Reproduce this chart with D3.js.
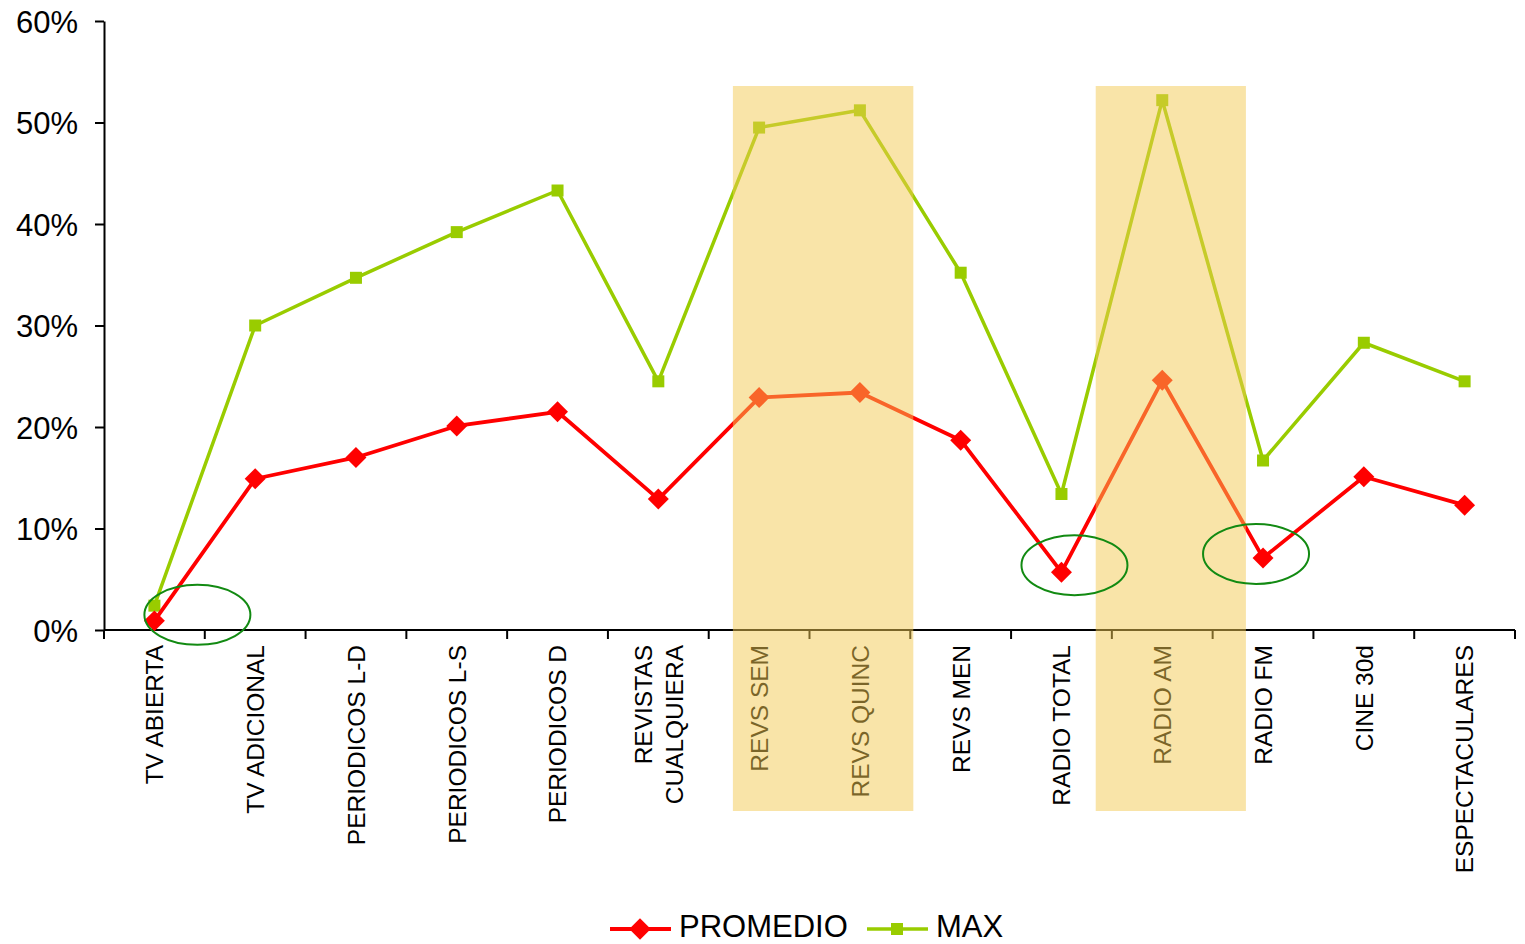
<!DOCTYPE html>
<html>
<head>
<meta charset="utf-8">
<script src="https://cdn.jsdelivr.net/npm/d3@7"></script>
<style>
  html, body { margin: 0; padding: 0; background: #fff; }
  svg { display: block; font-family: "Liberation Sans", Arial, sans-serif; }
</style>
</head>
<body>
<svg id="chart" width="1525" height="944"></svg>
<script>
// Media categories (multi-line labels split with "\n")
const categories = [
  "TV ABIERTA", "TV ADICIONAL", "PERIODICOS L-D", "PERIODICOS L-S", "PERIODICOS D",
  "REVISTAS\nCUALQUIERA", "REVS SEM", "REVS QUINC", "REVS MEN", "RADIO TOTAL",
  "RADIO AM", "RADIO FM", "CINE 30d", "ESPECTACULARES"
];
// Average reach per medium (%)
const promedio = [0.9, 14.9, 17.0, 20.1, 21.5, 12.9, 22.9, 23.4, 18.7, 5.7, 24.6, 7.1, 15.1, 12.3];
// Maximum reach per medium (%)
const maxVals = [2.4, 30.0, 34.7, 39.2, 43.3, 24.5, 49.5, 51.2, 35.2, 13.4, 52.2, 16.7, 28.3, 24.5];
const yTicks = [0, 10, 20, 30, 40, 50, 60];
// Highlighted category ranges: [first, last, start inset, end overhang] (in band widths)
const highlights = [["REVS SEM", "REVS QUINC", 0.24, 0.03], ["RADIO AM", "RADIO AM", -0.16, 0.33]];
// Circled points
const circled = ["TV ABIERTA", "RADIO TOTAL", "RADIO FM"];

const svg = d3.select("#chart");
const mLeft = 104, mRight = 1515, mTop = 21, mBottom = 630;

const x = d3.scaleBand().domain(categories).range([mLeft, mRight]).padding(0);
const y = d3.scaleLinear().domain([0, 60]).range([mBottom, mTop]);
const cx = c => x(c) + x.bandwidth() / 2;

// Y axis
const yAxis = svg.append("g").attr("transform", `translate(${mLeft},0)`)
  .call(d3.axisLeft(y).tickValues(yTicks).tickFormat(d => d + "%").tickSize(9).tickSizeOuter(0));
yAxis.select(".domain").attr("stroke", "#000").attr("stroke-width", 2);
yAxis.selectAll(".tick line").attr("stroke", "#000").attr("stroke-width", 2);
yAxis.selectAll(".tick text").attr("font-size", 31).attr("fill", "#000")
  .attr("font-family", "'Liberation Sans', Arial, sans-serif")
  .attr("x", -26).attr("dy", "0.36em");

// X axis: ticks on category boundaries
const xAxisG = svg.append("g");
xAxisG.append("line").attr("x1", mLeft).attr("x2", mRight).attr("y1", mBottom).attr("y2", mBottom)
  .attr("stroke", "#000").attr("stroke-width", 2);
const boundaries = categories.map(c => x(c)).concat([mRight]);
xAxisG.selectAll(".xt").data(boundaries).join("line")
  .attr("x1", d => d).attr("x2", d => d).attr("y1", mBottom).attr("y2", mBottom + 9)
  .attr("stroke", "#000").attr("stroke-width", 2);

const labels = svg.append("g");
categories.forEach(c => {
  const lines = c.split("\n");
  const lh = 31;
  const t = labels.append("text")
    .attr("transform", `translate(${cx(c)},645) rotate(-90)`)
    .attr("text-anchor", "end").attr("font-size", 24.5).attr("fill", "#000");
  lines.forEach((l, i) => {
    t.append("tspan").attr("x", 0)
      .attr("y", (i - (lines.length - 1) / 2) * lh)
      .attr("dy", "0.36em").text(l);
  });
});

// Series lines
const line = d3.line().x((d, i) => cx(categories[i])).y(d => y(d));
const green = "#99CC00", red = "#FF0000";

svg.append("path").datum(maxVals).attr("d", line)
  .attr("fill", "none").attr("stroke", green).attr("stroke-width", 3.5).attr("stroke-linejoin", "round");
svg.selectAll(".sq").data(maxVals).join("rect")
  .attr("x", (d, i) => cx(categories[i]) - 6).attr("y", d => y(d) - 6)
  .attr("width", 12).attr("height", 12).attr("fill", green);

svg.append("path").datum(promedio).attr("d", line)
  .attr("fill", "none").attr("stroke", red).attr("stroke-width", 3.8).attr("stroke-linejoin", "round");
svg.selectAll(".dm").data(promedio).join("path")
  .attr("d", d3.symbol().type(d3.symbolSquare).size(220))
  .attr("transform", (d, i) => `translate(${cx(categories[i])},${y(d)}) rotate(45)`)
  .attr("fill", red);

// Translucent highlight bands drawn over the lines and labels
highlights.forEach(([a, b, inset, over]) => {
  const x0 = x(a) + x.bandwidth() * inset;
  const x1 = x(b) + x.bandwidth() * (1 + over);
  svg.append("rect").attr("x", x0).attr("y", 86).attr("width", x1 - x0).attr("height", 725)
    .attr("fill", "rgb(243,201,81)").attr("fill-opacity", 0.5);
});

// Green ellipses around low points
const ellipseOffsets = { "TV ABIERTA": [43, -6], "RADIO TOTAL": [13, -7], "RADIO FM": [-7, -4] };
circled.forEach(c => {
  const i = categories.indexOf(c);
  const off = ellipseOffsets[c];
  svg.append("ellipse")
    .attr("cx", cx(c) + off[0]).attr("cy", y(promedio[i]) + off[1])
    .attr("rx", 53).attr("ry", 30)
    .attr("fill", "none").attr("stroke", "#128A12").attr("stroke-width", 2);
});

// Legend
const lg = svg.append("g").attr("transform", "translate(0,929)");
lg.append("line").attr("x1", 610).attr("x2", 671).attr("y1", 0).attr("y2", 0)
  .attr("stroke", red).attr("stroke-width", 3.8);
lg.append("path").attr("d", d3.symbol().type(d3.symbolSquare).size(230)())
  .attr("transform", "translate(640,0) rotate(45)").attr("fill", red);
lg.append("text").attr("x", 679).attr("y", 8)
  .attr("font-size", 31).attr("fill", "#000").text("PROMEDIO");
lg.append("line").attr("x1", 867).attr("x2", 928).attr("y1", 0).attr("y2", 0)
  .attr("stroke", green).attr("stroke-width", 3.5);
lg.append("rect").attr("x", 891).attr("y", -6).attr("width", 12).attr("height", 12).attr("fill", green);
lg.append("text").attr("x", 936).attr("y", 8)
  .attr("font-size", 31).attr("fill", "#000").text("MAX");
</script>
</body>
</html>
